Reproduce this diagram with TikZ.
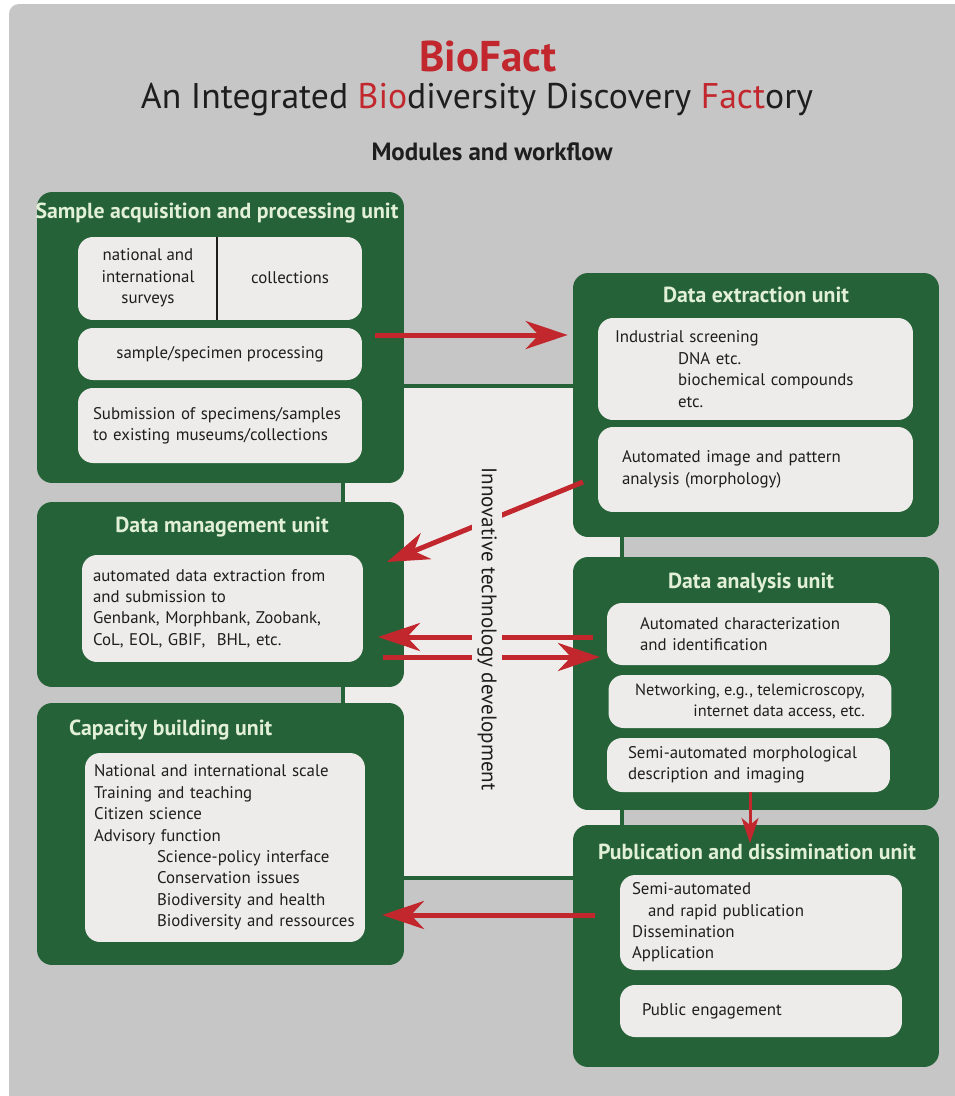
\documentclass[tikz,border=0pt]{standalone}
\usepackage{fontspec}
\setmainfont{PT Sans}
\usetikzlibrary{positioning}
\usetikzlibrary{arrows.meta}

\definecolor{bggray}{RGB}{198,198,198}
\definecolor{panelgray}{RGB}{238,237,235}
\definecolor{boxgray}{RGB}{238,236,234}
\definecolor{bfgreen}{RGB}{38,98,56}
\definecolor{bfred}{RGB}{193,39,45}
\definecolor{titlegreen}{RGB}{226,240,215}
\definecolor{ink}{RGB}{30,30,30}

\tikzset{
  unit/.style={fill=bfgreen, rounded corners=0.3cm, inner sep=0pt},
  inbox/.style={fill=boxgray, rounded corners=0.3cm, inner xsep=0pt, inner ysep=0pt,
    text=ink, align=left, font=\fontsize{9.6}{12.2}\selectfont},
  unittitle/.style={text=titlegreen, font=\bfseries\fontsize{12.4}{14}\selectfont},
  flow/.style={draw=bfred, line width=0.1cm,
    -{Stealth[length=0.84cm,width=0.56cm,inset=0.26cm]}},
  flowdown/.style={draw=bfred, line width=0.06cm,
    -{Stealth[length=0.5cm,width=0.34cm,inset=0.14cm]}}
}

\begin{document}
\begin{tikzpicture}[x=0.02cm,y=-0.02cm, text=ink]
\useasboundingbox (0,0) rectangle (954,1096);
\fill[bggray, rounded corners=0.2cm] (9,4) rectangle (970,1110);

% headings
\node[text=bfred, font=\bfseries\fontsize{24.5}{28}\selectfont] (biofact) at (488,56) {BioFact};
\node[font=\fontsize{20.3}{25}\selectfont] (maintitle) at (477,100)
  {An Integrated \textcolor{bfred}{Bio}diversity Discovery \textcolor{bfred}{Fact}ory};
\node[font=\bfseries\fontsize{14.2}{16}\selectfont] (subtitle) at (492,152) {Modules and workflow};

% central panel
\draw[bfgreen, fill=panelgray, line width=0.08cm] (343,386) rectangle (622,878);

% units
\node[unit, minimum width=7.34cm, minimum height=5.82cm] (samp) at (220.5,337.5) {};
\node[unit, minimum width=7.32cm, minimum height=5.28cm] (extr) at (756,405) {};
\node[unit, minimum width=7.34cm, minimum height=3.70cm] (dman) at (220.5,594.5) {};
\node[unit, minimum width=7.32cm, minimum height=5.06cm] (anal) at (756,683.5) {};
\node[unit, minimum width=7.34cm, minimum height=5.24cm] (capa) at (220.5,834) {};
\node[unit, minimum width=7.32cm, minimum height=4.84cm] (publ) at (756,946) {};

\node[unittitle] (sampT) at (217,213) {Sample acquisition and processing unit};
\node[unittitle] (extrT) at (756,295) {Data extraction unit};
\node[unittitle] (dmanT) at (222,527) {Data management unit};
\node[unittitle] (analT) at (751,583) {Data analysis unit};
\node[unittitle, anchor=west] (capaT) at (63,730) {Capacity building unit};
\node[unittitle] (publT) at (757,852) {Publication and dissimination unit};

% sample acquisition
\node[inbox, minimum width=5.68cm, minimum height=1.66cm] (s1) at (220,278.5) {};
\draw[ink, line width=0.7pt] (217,237) -- (217,320);
\node[align=center, font=\fontsize{9.6}{12.2}\selectfont] (surv) at (148,278) {national and\\international\\surveys};
\node[font=\fontsize{9.6}{12.2}\selectfont] (coll) at (290,278) {collections};
\node[inbox, align=center, minimum width=5.68cm, minimum height=1.04cm] (s2) at (220,354) {sample/specimen processing};
\node[inbox, text width=5.08cm, inner xsep=0.3cm, minimum height=1.5cm] (s3) at (220,425.5)
  {Submission of specimens/samples\\to existing museums/collections};

% data extraction
\node[inbox, text width=5.62cm, inner xsep=0.34cm, minimum height=2.04cm] (e1) at (755.5,369)
  {Industrial screening\\\hspace*{1.26cm}DNA etc.\\\hspace*{1.26cm}biochemical compounds\\\hspace*{1.26cm}etc.};
\node[inbox, text width=5.34cm, inner xsep=0.48cm, minimum height=1.7cm] (e2) at (755.5,469.5)
  {Automated image and pattern\\analysis (morphology)};

% data management
\node[inbox, text width=5.18cm, inner xsep=0.22cm, minimum height=2.14cm] (d1) at (222.5,608.5)
  {automated data extraction from\\and submission to\\Genbank, Morphbank, Zoobank,\\CoL, EOL, GBIF,~ BHL, etc.};

% data analysis
\node[inbox, text width=4.34cm, inner xsep=0.66cm, minimum height=1.24cm] (a1) at (748.5,634)
  {Automated characterization\\and identification};
\node[inbox, align=right, minimum width=5.66cm, minimum height=1.06cm, font=\fontsize{9.3}{12.2}\selectfont] (a2) at (750,701.5)
  {Networking, e.g., telemicroscopy,\\internet data access, etc.};
\node[inbox, text width=4.82cm, inner xsep=0.42cm, minimum height=1.08cm] (a3) at (748.5,765)
  {Semi-automated morphological\\description and imaging};

% capacity building
\node[inbox, text width=5.24cm, inner xsep=0.18cm, minimum width=5.6cm, minimum height=3.78cm] (c1) at (225,847.5)
  {National and international scale\\Training and teaching\\Citizen science\\Advisory function\\
   \hspace*{1.26cm}Science-policy interface\\\hspace*{1.26cm}Conservation issues\\
   \hspace*{1.26cm}Biodiversity and health\\\hspace*{1.26cm}Biodiversity and ressources};

% publication
\node[inbox, text width=5.16cm, inner xsep=0.24cm, minimum height=1.9cm] (p1) at (761,922.5)
  {Semi-automated\\\hspace*{0.32cm}and rapid publication\\Dissemination\\Application};
\node[inbox, text width=4.76cm, inner xsep=0.44cm, minimum height=1.04cm] (p2) at (761,1011)
  {Public engagement};

% workflow arrows
\coordinate (f1a) at (375,335);
\coordinate (f2a) at (583,482);
\coordinate (f2b) at (387,562);
\coordinate (f3a) at (593,637);
\coordinate (f3b) at (378,637);
\coordinate (f4a) at (383,657);
\coordinate (f4b) at (600,657);
\coordinate (f6a) at (595,915);
\coordinate (f6b) at (382,915);
\draw[flow, shorten >=0.1cm] (f1a) -- (f1a -| extr.west);
\draw[flow] (f2a) -- (f2b);
\draw[flow] (f3a) -- (f3b);
\draw[flow] (f4a) -- (f4b);
\draw[flowdown] (a3.south -| 750,0) -- (750,843);
\draw[flow] (f6a) -- (f6b);

\node[rotate=-90, fill=panelgray, inner xsep=1pt, inner ysep=2.8pt,
  font=\fontsize{12}{14}\selectfont] (itd) at (487,629) {Innovative technology development};
\end{tikzpicture}
\end{document}
